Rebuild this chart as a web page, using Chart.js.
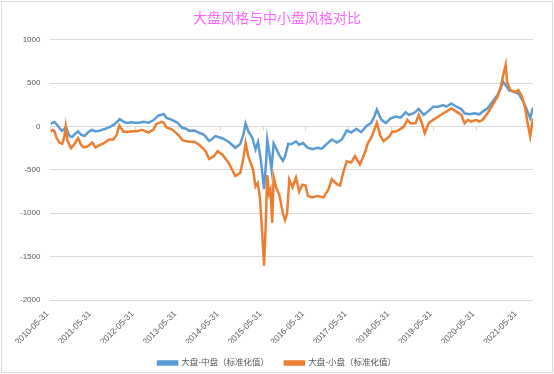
<!DOCTYPE html>
<html><head><meta charset="utf-8">
<script src="https://cdn.jsdelivr.net/npm/chart.js@4/dist/chart.umd.min.js"></script>
<style>html,body{margin:0;padding:0;background:#fff}#wrap{width:554px;height:374px}</style>
</head><body><div id="wrap"><canvas id="c" width="554" height="374"></canvas></div>
<script>
const titleText = '大盘风格与中小盘风格对比';
const seriesNames = ['大盘-中盘（标准化值）', '大盘-小盘（标准化值）'];
const tickLabels = ['2010-05-31','2011-05-31','2012-05-31','2013-05-31','2014-05-31','2015-05-31','2016-05-31','2017-05-31','2018-05-31','2019-05-31','2020-05-31','2021-05-31'];
// months elapsed since 2010-05-31
const midMonths = [0,0.6,1.1,1.9,2.6,3.2,3.9,4.4,5.0,5.5,6.1,6.8,7.8,8.6,9.6,10.5,11.6,12.7,13.7,14.7,15.5,16.9,18.0,18.8,19.5,20.1,20.8,21.6,22.7,23.8,24.9,26.2,27.6,29.0,30.4,31.3,31.9,32.7,34.1,35.9,37.1,38.2,39.1,40.5,41.9,43.3,44.7,45.4,46.5,48.4,50.2,52.1,53.5,54.4,55.0,55.8,56.9,57.8,58.5,59.3,60.2,60.8,61.1,61.6,62.3,62.9,63.7,64.5,65.5,66.1,67.0,67.9,69.2,70.1,71.2,72.4,73.8,75.2,76.5,77.9,79.3,80.7,82.1,83.5,84.8,86.2,87.6,89.0,90.4,91.3,92.0,93.2,94.5,95.9,97.3,98.7,100.1,101.0,102.4,103.8,105.2,106.6,107.9,109.3,110.7,111.6,113.0,114.4,115.8,116.7,118.1,119.5,120.9,121.8,123.2,124.6,126.0,126.9,127.6,128.3,129.2,130.6,131.9,133.3,134.3,135.2,136.0];
const midValues = [30,45,50,20,-20,-50,-30,-5,-80,-115,-120,-90,-55,-95,-110,-70,-40,-55,-50,-35,-25,0,25,55,85,70,50,40,50,45,43,55,45,72,126,135,145,100,80,42,-15,-25,-50,-45,-72,-95,-165,-150,-110,-135,-175,-245,-200,-90,35,-57,-130,-265,-180,-390,-722,-390,-150,-280,-495,-195,-260,-330,-395,-345,-200,-205,-170,-210,-190,-240,-262,-244,-255,-200,-150,-185,-150,-45,-70,-25,-65,5,42,118,195,80,40,95,115,103,164,134,153,203,134,180,229,229,248,229,267,229,203,153,141,153,141,172,210,286,363,439,515,477,420,400,381,286,191,95,220];
const smallMonths = [0,0.6,1.1,1.7,2.5,3.3,3.9,4.3,4.8,5.8,6.8,7.8,8.6,9.4,10.5,11.8,12.7,14.1,15.2,16.5,17.7,18.6,19.4,19.9,20.6,21.9,23.3,24.8,25.8,27.6,29.0,29.9,31.3,31.9,32.7,34.1,35.9,37.3,39.1,40.5,41.9,42.9,43.8,44.7,46.1,47.1,48.4,50.2,52.1,53.5,54.4,55.0,55.8,57.1,57.8,58.4,59.0,59.6,60.2,60.7,61.1,61.6,62.0,62.5,62.9,63.6,64.5,65.5,66.1,66.7,67.3,68.2,69.2,70.1,71.0,71.9,72.6,73.8,75.2,77.0,78.4,79.3,80.7,81.6,82.5,83.5,84.8,85.8,87.2,88.6,89.5,90.4,91.3,92.0,93.0,93.9,95.5,96.4,97.3,98.3,99.6,100.6,101.5,102.9,103.8,104.7,105.5,106.6,107.9,109.3,110.7,111.6,113.0,114.4,115.8,116.7,117.6,118.6,120.0,120.9,121.8,123.2,124.6,126.0,126.9,127.6,128.3,128.7,129.6,131.0,131.9,132.9,133.8,134.4,135.2,136.0];
const smallValues = [-60,-40,-50,-130,-185,-200,-120,0,-165,-250,-200,-135,-210,-240,-228,-185,-240,-210,-190,-150,-150,-100,10,-20,-60,-60,-55,-53,-38,-70,-34,30,55,45,-10,-30,-90,-160,-175,-175,-210,-250,-290,-375,-340,-285,-322,-418,-570,-535,-360,-190,-350,-500,-690,-650,-800,-1180,-1605,-1100,-560,-770,-725,-1110,-580,-700,-790,-1000,-1080,-1000,-610,-700,-590,-750,-670,-680,-800,-817,-800,-817,-721,-607,-664,-680,-531,-400,-416,-340,-437,-302,-187,-130,-34,42,-110,-168,-115,-57,-57,-38,0,77,38,38,134,38,-76,38,77,115,153,172,210,172,134,38,77,57,77,57,77,153,248,344,458,592,713,515,420,400,420,344,210,57,-115,95];

const toPts = (xs, ys) => xs.map((x, i) => ({x: x, y: ys[i]}));
const gray = '#595959';
const gridC = '#D9D9D9';
const fontFam = '"Liberation Sans", Arial, "Noto Sans CJK SC", sans-serif';
const keepYearTicks = axis => { axis.ticks = axis.ticks.filter(t => t.value % 12 === 0); };

const frame = {
  id: 'frame',
  beforeDraw(chart) {
    const c = chart.ctx;
    c.save();
    c.fillStyle = '#fff';
    c.fillRect(0, 0, chart.width, chart.height);
    c.strokeStyle = gridC;
    c.lineWidth = 1;
    c.strokeRect(1.5, 1.5, chart.width - 3, chart.height - 3);
    c.restore();
  }
};

new Chart(document.getElementById('c'), {
  type: 'line',
  data: {
    datasets: [
      {label: seriesNames[0], data: toPts(midMonths, midValues), borderColor: '#5B9BD5', backgroundColor: '#5B9BD5', borderWidth: 2.5, pointRadius: 0, tension: 0, order: 2},
      {label: seriesNames[1], data: toPts(smallMonths, smallValues), borderColor: '#ED7D31', backgroundColor: '#ED7D31', borderWidth: 2.5, pointRadius: 0, tension: 0, order: 1}
    ]
  },
  options: {
    responsive: false,
    animation: false,
    layout: {padding: {left: 10, right: 10, top: 0, bottom: 0}},
    scales: {
      x: {
        type: 'linear', min: 0, max: 136,
        afterBuildTicks: keepYearTicks,
        afterFit: s => { s.height = 43; },
        ticks: {stepSize: 12, autoSkip: false, minRotation: 45, maxRotation: 45, color: gray, padding: 9, labelOffset: -3,
          font: {family: fontFam, size: 8.5}, callback: v => tickLabels[Math.round(v / 12)]},
        grid: {display: false, drawTicks: false},
        border: {display: false}
      },
      x2: {
        type: 'linear', axis: 'x', min: 0, max: 136, position: {y: 0},
        afterBuildTicks: keepYearTicks,
        ticks: {stepSize: 12, display: false},
        grid: {drawOnChartArea: false, drawTicks: true, tickLength: 4, color: gridC},
        border: {display: true, color: gridC}
      },
      y: {
        min: -2000, max: 1000,
        ticks: {stepSize: 500, color: gray, padding: 10, font: {family: fontFam, size: 8}, callback: v => String(v)},
        grid: {color: gridC, drawTicks: false},
        border: {display: false}
      },
      ySpacer: {
        type: 'linear', axis: 'y', position: 'right', min: -2000, max: 1000,
        afterFit: s => { s.width = 11; },
        ticks: {display: false},
        grid: {drawOnChartArea: false, drawTicks: false},
        border: {display: false}
      }
    },
    plugins: {
      title: {display: true, text: titleText, color: '#FF66FF', padding: {top: 9, bottom: 14},
        font: {family: '"Noto Sans CJK SC", sans-serif', size: 14, weight: 'normal'}},
      legend: {position: 'bottom', maxHeight: 31, labels: {boxWidth: 19, boxHeight: 3, padding: 15.75, color: gray,
        sort: (a, b) => a.datasetIndex - b.datasetIndex,
        font: {family: fontFam, size: 8.5}}},
      tooltip: {enabled: false}
    }
  },
  plugins: [frame]
});
</script></body></html>
